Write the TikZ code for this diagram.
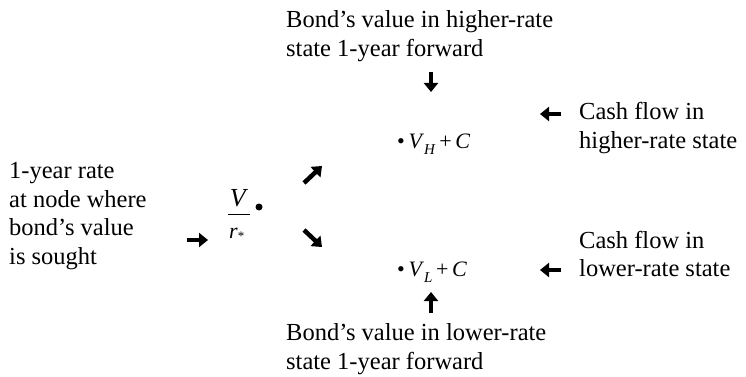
\documentclass[tikz,border=0pt]{standalone}
\usepackage{fontspec}
\setmainfont{Liberation Serif}
\usetikzlibrary{arrows.meta, positioning}

\begin{document}
\begin{tikzpicture}[
    x=1pt, y=-1pt,
    note/.style={anchor=west, align=left, inner sep=0pt, font=\fontsize{24.5}{28.5}\selectfont},
    state/.style={anchor=west, inner sep=0pt, font=\fontsize{22}{24}\selectfont},
    arrow/.style={-{Triangle[length=9pt, width=14pt]}, line width=4.5pt}
]
\useasboundingbox (0,0) rectangle (746,377);

\node[note] (highval) at (286,36) {Bond's value in higher-rate\\state 1-year forward};
\node[note] (highcash) at (579,128) {Cash flow in\\higher-rate state};
\node[note] (rate) at (9,216) {1-year rate\\at node where\\bond's value\\is sought};
\node[note] (lowcash) at (579,254) {Cash flow in\\lower-rate state};
\node[note] (lowval) at (286,349) {Bond's value in lower-rate\\state 1-year forward};

\node[state] (vhigh) at (397,144) {\textbullet\,\textit{V}\raisebox{-6pt}{\fontsize{15}{15}\selectfont\textit{H}}\,+\,\textit{C}};
\node[state] (vlow) at (397,272) {\textbullet\,\textit{V}\raisebox{-6pt}{\fontsize{15}{15}\selectfont\textit{L}}\,+\,\textit{C}};

\node[inner sep=0pt, font=\fontsize{26}{28}\selectfont] (vnum) at (239,198) {\textit{V}};
\node[anchor=west, inner sep=0pt, font=\fontsize{22}{24}\selectfont] (rstar) at (229,234) {\textit{r}\raisebox{-2pt}{\fontsize{13}{13}\selectfont *}};
\draw[line width=1.2pt] ([xshift=-2pt, yshift=-8pt]vnum.base west) -- ([xshift=2pt, yshift=-8pt]vnum.base east);
\node[circle, fill, inner sep=0pt, minimum size=7pt] (vdot) at (259,207) {};

\coordinate (downs) at (431,72);   \coordinate (downe) at (431,92);
\coordinate (hlefts) at (561,114); \coordinate (hlefte) at (540,114);
\coordinate (nes) at (304,183);    \coordinate (nee) at (322,166);
\coordinate (rights) at (187,240); \coordinate (righte) at (208,240);
\coordinate (ses) at (304,230);    \coordinate (see) at (322,247);
\coordinate (llefts) at (561,270); \coordinate (llefte) at (540,270);
\coordinate (ups) at (431,313);    \coordinate (upe) at (431,292);

\draw[arrow] (downs) -- (downe);
\draw[arrow] (hlefts) -- (hlefte);
\draw[arrow] (nes) -- (nee);
\draw[arrow] (rights) -- (righte);
\draw[arrow] (ses) -- (see);
\draw[arrow] (llefts) -- (llefte);
\draw[arrow] (ups) -- (upe);
\end{tikzpicture}
\end{document}
